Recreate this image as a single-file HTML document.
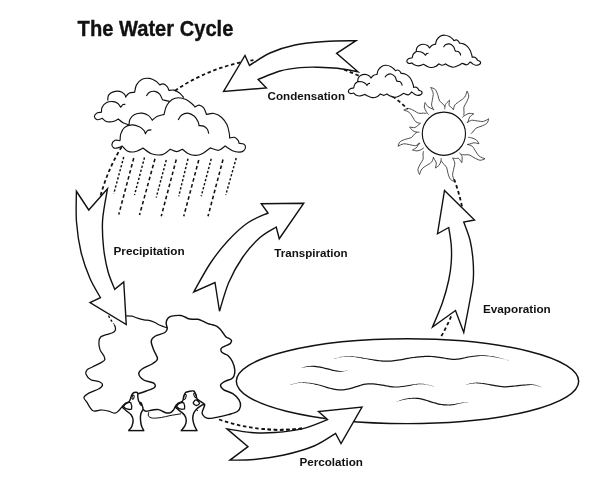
<!DOCTYPE html>
<html><head><meta charset="utf-8"><title>The Water Cycle</title>
<style>
html,body{margin:0;padding:0;background:#fff;}
svg{display:block;will-change:transform;}
text{font-family:"Liberation Sans",sans-serif;fill:#111;}
</style></head><body>
<svg width="600" height="484" viewBox="0 0 600 484">
<rect width="600" height="484" fill="#fff"/>
<path d="M100.65 195.46 A185.8 185.8 0 0 1 121.52 147.01" fill="none" stroke="#111" stroke-width="1.8" stroke-linejoin="miter" stroke-linecap="butt" stroke-dasharray="3.5 2.7" stroke-dashoffset="0"/>
<path d="M174.96 90.74 A185.8 185.8 0 0 1 241.03 62.33" fill="none" stroke="#111" stroke-width="1.8" stroke-linejoin="miter" stroke-linecap="butt" stroke-dasharray="3.5 2.7" stroke-dashoffset="0"/>
<path d="M250.43 60.57 A185.8 185.8 0 0 1 253.44 60.11" fill="none" stroke="#111" stroke-width="1.8" stroke-linejoin="miter" stroke-linecap="butt" stroke-dasharray="3.5 2.7" stroke-dashoffset="0"/>
<path d="M343.98 69.56 A185.8 185.8 0 0 1 359.5 76.07" fill="none" stroke="#111" stroke-width="1.8" stroke-linejoin="miter" stroke-linecap="butt" stroke-dasharray="3.5 2.7" stroke-dashoffset="0"/>
<path d="M392.69 96.28 A185.8 185.8 0 0 1 407.81 109.14" fill="none" stroke="#111" stroke-width="1.8" stroke-linejoin="miter" stroke-linecap="butt" stroke-dasharray="3.5 2.7" stroke-dashoffset="0"/>
<path d="M454.15 179.26 A185.8 185.8 0 0 1 461.96 206.41" fill="none" stroke="#111" stroke-width="1.8" stroke-linejoin="miter" stroke-linecap="butt" stroke-dasharray="3.5 2.7" stroke-dashoffset="0"/>
<path d="M451.14 316.35 A185.8 185.8 0 0 1 440.54 337.53" fill="none" stroke="#111" stroke-width="1.8" stroke-linejoin="miter" stroke-linecap="butt" stroke-dasharray="3.5 2.7" stroke-dashoffset="0"/>
<path d="M301.98 428.5 A185.8 185.8 0 0 1 217.95 419.13" fill="none" stroke="#111" stroke-width="1.8" stroke-linejoin="miter" stroke-linecap="butt" stroke-dasharray="3.5 2.7" stroke-dashoffset="0"/>
<path d="M223.6 91.4 L245 55.5 L249.5 65.5 C252.92 63.42 262.42 56.42 270 53C277.58 49.58 285.83 46.92 295 45C304.17 43.08 314.83 42.22 325 41.5C335.17 40.78 350.83 40.83 356 40.7L336.6 53.4 L358 71.8 C354.58 71.2 344.17 68.97 337.5 68.2C330.83 67.43 324.25 67.3 318 67.2C311.75 67.1 306.33 66.97 300 67.6C293.67 68.23 286.97 69.02 280 71C273.03 72.98 261.83 78.08 258.2 79.5L266.4 88 Z" fill="none" stroke="#111" stroke-width="1.4" stroke-linejoin="miter" stroke-linecap="butt" />
<path d="M76.4 191.25 L88.75 210 L107.5 188.75 C106.68 193.96 103.25 210.12 102.6 220C101.95 229.88 102.7 239.42 103.6 248C104.5 256.58 106.15 264.62 108 271.5C109.85 278.38 113.58 286.33 114.7 289.3L123.75 282 L126.25 324.5 L90 302.5 L100.4 297.6 C98.63 294.33 93.03 285.6 89.8 278C86.57 270.4 83.22 261.33 81 252C78.78 242.67 77.27 232.12 76.5 222C75.73 211.88 76.42 196.38 76.4 191.25Z" fill="none" stroke="#111" stroke-width="1.4" stroke-linejoin="miter" stroke-linecap="butt" />
<path d="M444.5 190.5 L474.5 220 L463.75 222 C464.79 225 468.46 233.67 470 240C471.54 246.33 472.46 253.33 473 260C473.54 266.67 473.75 273.33 473.25 280C472.75 286.67 471.58 291.25 470 300C468.42 308.75 464.79 327.08 463.75 332.5L455.5 310.5 L432.5 327 C434.17 322.92 439.79 310.33 442.5 302.5C445.21 294.67 447.29 286.67 448.75 280C450.21 273.33 450.83 268.33 451.25 262.5C451.67 256.67 451.67 250.83 451.25 245C450.83 239.17 449.17 230.42 448.75 227.5L437.5 233.75 Z" fill="none" stroke="#111" stroke-width="1.4" stroke-linejoin="miter" stroke-linecap="butt" />
<path d="M303.75 203.25 L261.25 203.75 L268 213 C264.58 214.67 254.25 218.29 247.5 223C240.75 227.71 233.75 234.46 227.5 241.25C221.25 248.04 215.62 255.29 210 263.75C204.38 272.21 196.46 287.29 193.75 292L215 282.5 L219.5 311.25 C221.04 306.46 224.92 291.46 228.75 282.5C232.58 273.54 237.29 265 242.5 257.5C247.71 250 254.38 242.58 260 237.5C265.62 232.42 273.54 228.75 276.25 227L279.25 238.75 Z" fill="none" stroke="#111" stroke-width="1.4" stroke-linejoin="miter" stroke-linecap="butt" />
<ellipse cx="407.5" cy="381.2" rx="171.2" ry="42.4" fill="none" stroke="#111" stroke-width="1.45"/>
<path d="M333.78 359.01L334.45 358.81L335.36 358.53L336.44 358.21L337.62 357.87L338.84 357.56L340.02 357.32L341.18 357.14L342.36 356.97L343.57 356.82L344.82 356.71L346.13 356.65L347.5 356.63L348.95 356.68L350.46 356.79L352.04 356.93L353.65 357.12L355.3 357.32L356.96 357.55L358.64 357.79L360.36 358.08L362.12 358.39L363.89 358.72L365.66 359.04L367.42 359.35L369.18 359.66L370.95 359.99L372.73 360.32L374.49 360.63L376.23 360.91L377.93 361.14L379.57 361.34L381.15 361.51L382.71 361.65L384.27 361.75L385.86 361.81L387.51 361.81L389.21 361.76L390.92 361.65L392.66 361.5L394.43 361.3L396.23 361.07L398.09 360.82L400.04 360.51L402.08 360.13L404.15 359.73L406.21 359.32L408.21 358.94L410.1 358.62L411.87 358.35L413.56 358.12L415.2 357.91L416.81 357.73L418.41 357.56L420.05 357.42L421.7 357.29L423.34 357.17L424.97 357.07L426.61 357.01L428.27 356.99L429.98 357.02L431.72 357.12L433.51 357.28L435.33 357.48L437.18 357.72L439.04 357.97L440.91 358.22L442.82 358.51L444.79 358.87L446.79 359.24L448.77 359.59L450.68 359.86L452.47 360.02L454.09 360.05L455.58 359.98L456.98 359.83L458.33 359.63L459.68 359.4L461.09 359.17L462.54 358.91L463.95 358.6L465.37 358.26L466.83 357.92L468.38 357.59L470.08 357.3L471.95 357.02L473.97 356.73L476.08 356.45L478.24 356.22L480.39 356.06L482.5 355.99L484.54 356.03L486.56 356.14L488.59 356.33L490.64 356.58L492.76 356.88L494.95 357.24L497.42 357.71L500.18 358.31L503 358.96L505.64 359.62L507.87 360.2L509.47 360.61L509.53 360.39L507.93 359.99L505.69 359.41L503.06 358.71L500.26 357.97L497.51 357.3L495.05 356.76L492.85 356.35L490.73 355.99L488.66 355.68L486.62 355.45L484.58 355.29L482.5 355.21L480.36 355.23L478.17 355.35L475.98 355.55L473.85 355.79L471.81 356.05L469.92 356.3L468.2 356.56L466.61 356.87L465.13 357.19L463.71 357.51L462.32 357.79L460.91 358.03L459.5 358.24L458.15 358.45L456.83 358.62L455.49 358.75L454.08 358.8L452.53 358.78L450.82 358.62L448.97 358.35L447.02 358.01L445.02 357.64L443.03 357.28L441.09 356.98L439.21 356.73L437.34 356.48L435.48 356.24L433.64 356.04L431.81 355.88L430.02 355.78L428.28 355.74L426.58 355.76L424.91 355.83L423.25 355.92L421.61 356.05L419.95 356.18L418.3 356.32L416.67 356.48L415.05 356.67L413.4 356.88L411.69 357.11L409.9 357.38L407.99 357.71L405.97 358.09L403.91 358.5L401.85 358.9L399.83 359.28L397.91 359.58L396.07 359.84L394.28 360.06L392.53 360.25L390.82 360.41L389.14 360.52L387.49 360.59L385.88 360.6L384.32 360.57L382.79 360.49L381.26 360.37L379.69 360.23L378.07 360.06L376.38 359.85L374.66 359.6L372.9 359.32L371.12 359.02L369.34 358.73L367.58 358.45L365.81 358.17L364.03 357.88L362.26 357.59L360.49 357.32L358.75 357.07L357.04 356.85L355.37 356.67L353.72 356.5L352.09 356.35L350.5 356.24L348.97 356.18L347.5 356.17L346.11 356.22L344.79 356.32L343.53 356.47L342.31 356.65L341.13 356.85L339.98 357.08L338.79 357.34L337.56 357.66L336.38 357.99L335.29 358.32L334.38 358.6L333.72 358.79Z" fill="#151515" stroke="none"/>
<path d="M301.28 368.11L301.78 367.97L302.45 367.77L303.26 367.57L304.16 367.38L305.1 367.21L306.05 367.09L307.02 366.99L308.04 366.9L309.11 366.84L310.22 366.8L311.35 366.79L312.49 366.84L313.65 366.93L314.87 367.06L316.11 367.23L317.37 367.41L318.64 367.6L319.89 367.82L321.14 368.05L322.4 368.32L323.67 368.61L324.93 368.92L326.16 369.22L327.35 369.51L328.49 369.79L329.6 370.08L330.69 370.36L331.76 370.64L332.82 370.89L333.88 371.08L334.91 371.25L335.89 371.41L336.86 371.54L337.85 371.63L338.89 371.69L339.99 371.7L341.26 371.64L342.69 371.5L344.14 371.32L345.51 371.12L346.68 370.98L347.51 370.91L347.49 370.69L346.66 370.76L345.49 370.83L344.11 370.88L342.65 370.92L341.24 370.94L340.01 370.9L338.95 370.81L337.96 370.68L337.01 370.53L336.07 370.34L335.12 370.14L334.12 369.92L333.09 369.68L332.06 369.42L331 369.15L329.92 368.87L328.8 368.58L327.65 368.29L326.46 368.01L325.22 367.7L323.96 367.4L322.67 367.1L321.39 366.83L320.11 366.58L318.84 366.37L317.55 366.17L316.27 365.99L314.99 365.87L313.73 365.79L312.51 365.76L311.33 365.79L310.17 365.88L309.04 366L307.96 366.15L306.93 366.33L305.95 366.51L305 366.73L304.06 367L303.18 367.29L302.39 367.56L301.72 367.76L301.22 367.89Z" fill="#151515" stroke="none"/>
<path d="M290.03 385.11L290.68 384.91L291.57 384.63L292.63 384.3L293.77 383.96L294.93 383.66L296.03 383.44L297.06 383.27L298.08 383.11L299.12 382.99L300.18 382.9L301.3 382.85L302.5 382.85L303.78 382.91L305.15 383.01L306.56 383.15L308.02 383.33L309.48 383.54L310.94 383.77L312.39 384.03L313.85 384.31L315.32 384.63L316.81 384.98L318.33 385.36L319.88 385.77L321.47 386.23L323.1 386.76L324.77 387.33L326.47 387.89L328.17 388.41L329.86 388.87L331.55 389.26L333.25 389.63L334.96 389.97L336.66 390.24L338.34 390.43L339.98 390.52L341.59 390.51L343.15 390.41L344.68 390.23L346.18 389.99L347.66 389.71L349.13 389.41L350.62 389.06L352.12 388.65L353.59 388.2L355.03 387.74L356.39 387.29L357.68 386.9L358.88 386.53L359.98 386.17L361.02 385.83L362.03 385.52L363.04 385.24L364.11 385.01L365.26 384.83L366.45 384.68L367.66 384.56L368.88 384.48L370.08 384.43L371.24 384.42L372.37 384.46L373.47 384.54L374.57 384.66L375.67 384.81L376.78 384.96L377.92 385.12L379.08 385.28L380.26 385.45L381.45 385.64L382.63 385.84L383.78 386.03L384.89 386.22L385.93 386.41L386.93 386.61L387.91 386.81L388.89 387L389.89 387.17L390.93 387.3L391.97 387.41L393.01 387.5L394.06 387.56L395.15 387.6L396.3 387.6L397.53 387.55L398.84 387.45L400.22 387.3L401.66 387.12L403.12 386.91L404.6 386.69L406.07 386.46L407.58 386.21L409.15 385.93L410.73 385.63L412.27 385.34L413.73 385.07L415.05 384.85L416.21 384.66L417.23 384.5L418.16 384.36L419.06 384.25L419.98 384.19L420.99 384.17L422.1 384.2L423.25 384.28L424.44 384.41L425.64 384.56L426.82 384.75L427.97 384.95L429.16 385.21L430.41 385.54L431.65 385.91L432.8 386.28L433.77 386.59L434.47 386.81L434.53 386.59L433.83 386.38L432.87 386.07L431.72 385.7L430.48 385.32L429.22 384.95L428.03 384.65L426.88 384.4L425.7 384.18L424.5 383.98L423.3 383.82L422.13 383.7L421.01 383.63L419.97 383.62L419.01 383.66L418.09 383.74L417.14 383.86L416.11 384L414.95 384.15L413.61 384.34L412.14 384.57L410.59 384.82L409 385.08L407.43 385.33L405.93 385.54L404.46 385.73L402.99 385.93L401.53 386.1L400.11 386.26L398.75 386.38L397.47 386.45L396.29 386.47L395.18 386.45L394.13 386.4L393.1 386.32L392.09 386.22L391.07 386.1L390.08 385.96L389.11 385.78L388.16 385.59L387.18 385.38L386.17 385.18L385.11 384.98L383.99 384.8L382.83 384.6L381.65 384.41L380.45 384.22L379.25 384.04L378.08 383.88L376.95 383.73L375.83 383.57L374.72 383.42L373.59 383.3L372.43 383.21L371.26 383.18L370.05 383.18L368.81 383.23L367.56 383.31L366.31 383.43L365.08 383.59L363.89 383.79L362.75 384.03L361.68 384.31L360.64 384.64L359.59 384.98L358.5 385.34L357.32 385.7L356.02 386.1L354.64 386.55L353.22 387L351.77 387.45L350.31 387.85L348.87 388.19L347.42 388.48L345.97 388.75L344.51 388.99L343.03 389.16L341.54 389.26L340.02 389.28L338.44 389.18L336.82 389L335.17 388.74L333.49 388.44L331.81 388.1L330.14 387.73L328.47 387.32L326.79 386.84L325.1 386.31L323.42 385.78L321.75 385.27L320.12 384.83L318.55 384.46L317.01 384.11L315.5 383.79L314 383.51L312.53 383.25L311.06 383.03L309.58 382.84L308.09 382.67L306.62 382.53L305.19 382.42L303.81 382.36L302.5 382.35L301.29 382.39L300.15 382.47L299.07 382.6L298.03 382.76L297 382.95L295.97 383.16L294.87 383.43L293.71 383.75L292.56 384.09L291.5 384.42L290.61 384.7L289.97 384.89Z" fill="#151515" stroke="none"/>
<path d="M465.78 385.1L466.34 384.93L467.1 384.68L468 384.39L469 384.12L470.03 383.89L471.04 383.71L472.02 383.58L473.03 383.47L474.07 383.39L475.15 383.35L476.29 383.35L477.49 383.39L478.76 383.49L480.12 383.65L481.53 383.85L482.98 384.07L484.45 384.31L485.91 384.56L487.41 384.82L488.97 385.12L490.54 385.42L492.09 385.71L493.56 385.98L494.89 386.22L496.08 386.41L497.15 386.59L498.14 386.75L499.08 386.89L500 387.01L500.93 387.12L501.81 387.22L502.61 387.31L503.41 387.38L504.25 387.43L505.18 387.45L506.27 387.42L507.53 387.36L508.92 387.24L510.39 387.1L511.93 386.94L513.49 386.78L515.06 386.62L516.7 386.46L518.45 386.28L520.23 386.06L521.97 385.86L523.6 385.67L525.04 385.52L526.28 385.39L527.37 385.28L528.34 385.2L529.24 385.14L530.11 385.1L530.99 385.09L531.86 385.1L532.66 385.12L533.43 385.17L534.21 385.25L535.04 385.37L535.94 385.55L537.01 385.81L538.24 386.17L539.52 386.57L540.72 386.97L541.74 387.35L542.46 387.6L542.54 387.4L541.81 387.14L540.8 386.77L539.61 386.31L538.35 385.82L537.14 385.39L536.06 385.05L535.15 384.82L534.31 384.65L533.5 384.52L532.71 384.43L531.89 384.36L531.01 384.31L530.1 384.28L529.21 384.28L528.29 384.3L527.3 384.35L526.2 384.41L524.96 384.48L523.5 384.59L521.86 384.72L520.11 384.87L518.32 385.04L516.58 385.22L514.94 385.38L513.36 385.54L511.8 385.7L510.27 385.86L508.81 386L507.45 386.11L506.23 386.18L505.18 386.2L504.29 386.18L503.5 386.13L502.74 386.06L501.95 385.98L501.07 385.88L500.16 385.77L499.25 385.65L498.33 385.51L497.35 385.36L496.28 385.18L495.11 384.98L493.78 384.75L492.32 384.48L490.77 384.19L489.18 383.91L487.6 383.66L486.09 383.44L484.61 383.25L483.13 383.06L481.65 382.89L480.21 382.75L478.83 382.65L477.51 382.61L476.28 382.62L475.12 382.69L474.02 382.79L472.97 382.93L471.95 383.1L470.96 383.29L469.95 383.53L468.92 383.84L467.94 384.18L467.03 384.47L466.27 384.72L465.72 384.9Z" fill="#151515" stroke="none"/>
<path d="M396.29 402.1L397.12 401.8L398.27 401.37L399.65 400.92L401.14 400.45L402.65 400.03L404.07 399.69L405.44 399.45L406.84 399.23L408.26 399.06L409.68 398.93L411.11 398.85L412.52 398.81L413.89 398.81L415.21 398.83L416.53 398.9L417.88 399.03L419.31 399.24L420.87 399.51L422.63 399.93L424.58 400.48L426.62 401.11L428.66 401.76L430.59 402.38L432.32 402.9L433.81 403.33L435.12 403.72L436.33 404.07L437.49 404.39L438.66 404.67L439.89 404.91L441.17 405.12L442.46 405.29L443.76 405.43L445.03 405.53L446.28 405.58L447.49 405.6L448.66 405.57L449.79 405.5L450.89 405.4L451.96 405.28L453.02 405.13L454.07 404.97L455.08 404.79L456.02 404.57L456.95 404.35L457.9 404.11L458.92 403.86L460.05 403.62L461.44 403.35L463.07 403.05L464.78 402.75L466.4 402.45L467.78 402.25L468.77 402.11L468.73 401.89L467.75 402.03L466.36 402.23L464.72 402.4L463 402.6L461.36 402.8L459.95 402.98L458.78 403.17L457.73 403.36L456.77 403.55L455.85 403.74L454.92 403.9L453.93 404.03L452.9 404.15L451.85 404.25L450.8 404.33L449.73 404.39L448.63 404.42L447.51 404.4L446.33 404.35L445.11 404.28L443.87 404.18L442.61 404.05L441.35 403.89L440.11 403.69L438.93 403.45L437.8 403.18L436.67 402.87L435.47 402.52L434.16 402.13L432.68 401.7L430.97 401.19L429.04 400.57L427 399.92L424.94 399.28L422.95 398.72L421.13 398.29L419.5 398L418.01 397.83L416.6 397.74L415.23 397.71L413.88 397.73L412.48 397.79L411.04 397.89L409.59 398.04L408.15 398.24L406.72 398.48L405.31 398.77L403.93 399.11L402.5 399.53L401.01 400.05L399.54 400.62L398.19 401.17L397.05 401.6L396.21 401.9Z" fill="#151515" stroke="none"/>
<path d="M227 428.9 L248 446.6 L230 460.1 C234 460 245 460.35 254 459.5C263 458.65 274 457.25 284 455C294 452.75 305.4 449.6 314 446C322.6 442.4 332 435.5 335.6 433.4L341 443.6 L362 407 L318.5 411.5 L327.5 419.6 C323.25 421.15 310.75 426.75 302 428.9C293.25 431.05 283.5 431.9 275 432.5C266.5 433.1 259 433.1 251 432.5C243 431.9 231 429.5 227 428.9Z" fill="#fff" stroke="#111" stroke-width="1.4" stroke-linejoin="miter" stroke-linecap="butt" />
<path d="M301.98 428.5 A185.8 185.8 0 0 1 262.01 428.93" fill="none" stroke="#111" stroke-width="1.8" stroke-linejoin="miter" stroke-linecap="butt" stroke-dasharray="3.5 2.7" stroke-dashoffset="0"/>
<path d="M101.5 112.4C100.82 112.47 98.58 112.12 97.4 112.8C96.22 113.48 94.43 115.35 94.4 116.5C94.37 117.65 95.9 119.4 97.2 119.7C98.5 120 101.37 118.53 102.2 118.3C102.72 118.73 104.13 120.3 105.3 120.9C106.47 121.5 107.75 121.83 109.2 121.9C110.65 121.97 112.48 121.78 114 121.3C115.52 120.82 117.58 119.38 118.3 119C119.08 119.62 121.22 121.72 123 122.7C124.78 123.68 128 124.53 129 124.9" fill="none" stroke="#111" stroke-width="1.15" stroke-linejoin="miter" stroke-linecap="butt" />
<path d="M101.5 112.4C101.6 111.53 101.23 108.85 102.1 107.2C102.97 105.55 104.85 103.43 106.7 102.5C108.55 101.57 111.33 101.43 113.2 101.6C115.07 101.77 116.65 102.57 117.9 103.5C119.15 104.43 120.23 106.58 120.7 107.2C121.1 106.77 122.33 105.07 123.1 104.6C123.87 104.13 124.93 104.43 125.3 104.4" fill="none" stroke="#111" stroke-width="1.15" stroke-linejoin="miter" stroke-linecap="butt" />
<path d="M107.7 100.7C107.85 99.77 107.68 96.57 108.6 95.1C109.52 93.63 111.33 92.52 113.2 91.9C115.07 91.28 117.93 91.02 119.8 91.4C121.67 91.78 123.42 93.27 124.4 94.2C125.38 95.13 125.48 96.53 125.7 97C126.25 96.37 127.52 93.98 129 93.2C130.48 92.42 133.67 92.45 134.6 92.3C134.92 91.07 135.25 87.07 136.5 84.9C137.75 82.73 139.93 80.38 142.1 79.3C144.27 78.22 147.18 78.08 149.5 78.4C151.82 78.72 154.3 80.12 156 81.2C157.7 82.28 159.08 84.28 159.7 84.9C160.32 84.73 162.15 83.6 163.4 83.9C164.65 84.2 166.27 85.6 167.2 86.7C168.13 87.8 168.7 89.87 169 90.5C169.78 90.43 171.95 89.68 173.7 90.1C175.45 90.52 177.82 91.73 179.5 93C181.18 94.27 183.08 96.92 183.8 97.7" fill="none" stroke="#111" stroke-width="1.15" stroke-linejoin="miter" stroke-linecap="butt" />
<path d="M146.3 96C146.83 95.38 148.03 93.07 149.5 92.3C150.97 91.53 153.4 91.08 155.1 91.4C156.8 91.72 158.47 92.8 159.7 94.2C160.93 95.6 162.03 98.87 162.5 99.8C163.28 99.98 165.95 100.6 167.2 100.9C168.45 101.2 169.53 101.48 170 101.6" fill="none" stroke="#111" stroke-width="1.15" stroke-linejoin="miter" stroke-linecap="butt" />
<path d="M120.1 140.7C119.27 140.63 116.47 139.68 115.1 140.3C113.73 140.92 112.05 143.1 111.9 144.4C111.75 145.7 112.88 147.63 114.2 148.1C115.52 148.57 118.5 147.57 119.8 147.2C121.1 146.83 121.63 146.12 122 145.9C122.87 146.73 125.1 149.92 127.2 150.9C129.3 151.88 131.97 152.27 134.6 151.8C137.23 151.33 141.6 148.72 143 148.1C144.4 149.03 148.15 152.62 151.4 153.7C154.65 154.78 159.37 155.35 162.5 154.6C165.63 153.85 168.92 150.1 170.2 149.2C171.28 149.6 174.68 151.6 176.7 151.6C178.72 151.6 181.37 149.6 182.3 149.2C183.23 149.9 185.73 152.38 187.9 153.4C190.07 154.42 192.82 155.3 195.3 155.3C197.78 155.3 200.32 154.63 202.8 153.4C205.28 152.17 208.97 148.82 210.2 147.9C211.6 148.3 216.12 150.62 218.6 150.3C221.08 149.98 224.02 146.72 225.1 146C226.33 146.78 230.18 149.68 232.5 150.7C234.82 151.72 237.13 152.1 239 152.1C240.87 152.1 242.62 151.57 243.7 150.7C244.78 149.83 245.5 148 245.5 146.9C245.5 145.8 244.78 144.72 243.7 144.1C242.62 143.48 239.78 143.35 239 143.2C238.85 142.73 238.87 141.38 238.1 140.4C237.33 139.42 235.8 137.7 234.4 137.3C233 136.9 230.48 137.88 229.7 138C229.62 137.17 229.67 135.23 229.2 133C228.73 130.77 228.2 127.23 226.9 124.6C225.6 121.97 223.57 119.05 221.4 117.2C219.23 115.35 216.38 113.97 213.9 113.5C211.42 113.03 207.73 114.25 206.5 114.4C206.03 113.32 204.95 109.45 203.7 107.9C202.45 106.35 200.45 105.25 199 105.1C197.55 104.95 195.67 106.68 195 107C194.58 106.53 194 105.45 192.5 104.2C191 102.95 188.32 100.58 186 99.5C183.68 98.42 180.92 97.7 178.6 97.7C176.28 97.7 174.12 98.12 172.1 99.5C170.08 100.88 167.83 103.52 166.5 106C165.17 108.48 164.5 113 164.1 114.4C162.9 114.75 158.87 115.53 156.9 116.5C154.93 117.47 153.07 119.58 152.3 120.2C151.68 119.43 150.3 116.78 148.6 115.6C146.9 114.42 144.43 113.27 142.1 113.1C139.77 112.93 136.62 113.57 134.6 114.6C132.58 115.63 130.93 117.58 130 119.3C129.07 121.02 129.17 123.97 129 124.9" fill="#fff" stroke="#111" stroke-width="1.15" stroke-linejoin="miter" stroke-linecap="butt" />
<path d="M120.1 140.7C120.2 139.6 119.98 136.28 120.7 134.1C121.42 131.92 122.55 129.13 124.4 127.6C126.25 126.07 129.32 125.05 131.8 124.9C134.28 124.75 137.28 125.78 139.3 126.7C141.32 127.62 142.88 129.25 143.9 130.4C144.92 131.55 145.15 133.07 145.4 133.6C145.77 133.07 146.6 131.02 147.6 130.4C148.6 129.78 150.77 129.98 151.4 129.9" fill="none" stroke="#111" stroke-width="1.15" stroke-linejoin="miter" stroke-linecap="butt" />
<path d="M178.2 120C178.73 119.22 179.78 116.45 181.4 115.3C183.02 114.15 185.73 112.93 187.9 113.1C190.07 113.27 192.7 114.85 194.4 116.3C196.1 117.75 197.33 120.25 198.1 121.8C198.87 123.35 198.85 124.97 199 125.6C199.78 125.68 202.3 125.48 203.7 126.1C205.1 126.72 206.57 128.05 207.4 129.3C208.23 130.55 208.48 132.88 208.7 133.6" fill="none" stroke="#111" stroke-width="1.15" stroke-linejoin="miter" stroke-linecap="butt" />
<path d="M123.75 157L113.75 193.75" fill="none" stroke="#111" stroke-width="1.45" stroke-linejoin="miter" stroke-linecap="butt" stroke-dasharray="2.3 1.9"/>
<path d="M133.75 158L118.75 214.5" fill="none" stroke="#111" stroke-width="1.55" stroke-linejoin="miter" stroke-linecap="butt" stroke-dasharray="3.6 2.65"/>
<path d="M144.5 157.5L134.5 195" fill="none" stroke="#111" stroke-width="1.45" stroke-linejoin="miter" stroke-linecap="butt" stroke-dasharray="2.3 1.9"/>
<path d="M155 158.75L139.5 215" fill="none" stroke="#111" stroke-width="1.55" stroke-linejoin="miter" stroke-linecap="butt" stroke-dasharray="3.6 2.65"/>
<path d="M166.25 160L156.25 197.5" fill="none" stroke="#111" stroke-width="1.45" stroke-linejoin="miter" stroke-linecap="butt" stroke-dasharray="2.3 1.9"/>
<path d="M176.25 159.5L161.25 216.25" fill="none" stroke="#111" stroke-width="1.55" stroke-linejoin="miter" stroke-linecap="butt" stroke-dasharray="3.6 2.65"/>
<path d="M188 158.75L178.75 196.25" fill="none" stroke="#111" stroke-width="1.45" stroke-linejoin="miter" stroke-linecap="butt" stroke-dasharray="2.3 1.9"/>
<path d="M198.75 160L183.75 216.25" fill="none" stroke="#111" stroke-width="1.55" stroke-linejoin="miter" stroke-linecap="butt" stroke-dasharray="3.6 2.65"/>
<path d="M211.25 158.75L201.25 196.25" fill="none" stroke="#111" stroke-width="1.45" stroke-linejoin="miter" stroke-linecap="butt" stroke-dasharray="2.3 1.9"/>
<path d="M223 159.5L208 216.25" fill="none" stroke="#111" stroke-width="1.55" stroke-linejoin="miter" stroke-linecap="butt" stroke-dasharray="3.6 2.65"/>
<path d="M236.25 158L225.75 195" fill="none" stroke="#111" stroke-width="1.45" stroke-linejoin="miter" stroke-linecap="butt" stroke-dasharray="2.3 1.9"/>
<g transform="translate(0 0)">
<path d="M353.7 88C353.13 88.12 351.2 88.15 350.3 88.7C349.4 89.25 348.3 90.5 348.3 91.3C348.3 92.1 349.4 93.2 350.3 93.5C351.2 93.8 353.13 93.17 353.7 93.1C354.03 93.4 354.7 94.42 355.7 94.9C356.7 95.38 358.15 96.08 359.7 96C361.25 95.92 364.12 94.67 365 94.4C365.45 94.67 366.48 95.47 367.7 96C368.92 96.53 370.75 97.48 372.3 97.6C373.85 97.72 375.67 97.3 377 96.7C378.33 96.1 379.75 94.45 380.3 94C380.87 94.22 382.58 95.3 383.7 95.3C384.82 95.3 386.45 94.22 387 94C387.55 94.33 388.97 95.45 390.3 96C391.63 96.55 393.43 97.35 395 97.3C396.57 97.25 398.25 96.37 399.7 95.7C401.15 95.03 403.03 93.7 403.7 93.3C404.47 93.57 406.97 95.12 408.3 94.9C409.63 94.68 411.13 92.48 411.7 92C412.13 92.33 413.42 93.45 414.3 94C415.18 94.55 416 95.15 417 95.3C418 95.45 419.45 95.27 420.3 94.9C421.15 94.53 421.93 93.7 422.1 93.1C422.27 92.5 421.82 91.75 421.3 91.3C420.78 90.85 419.38 90.55 419 90.4C418.88 90.18 418.75 89.62 418.3 89.1C417.85 88.58 417.07 87.6 416.3 87.3C415.53 87 414.13 87.3 413.7 87.3C413.63 86.97 413.63 86.4 413.3 85.3C412.97 84.2 412.42 82.13 411.7 80.7C410.98 79.27 410.12 77.82 409 76.7C407.88 75.58 406.33 74.57 405 74C403.67 73.43 401.67 73.42 401 73.3C400.82 72.97 400.45 71.85 399.9 71.3C399.35 70.75 398.45 70.1 397.7 70C396.95 69.9 395.78 70.58 395.4 70.7C395.22 70.47 395.03 69.97 394.3 69.3C393.57 68.63 392.33 67.37 391 66.7C389.67 66.03 387.85 65.35 386.3 65.3C384.75 65.25 383.03 65.62 381.7 66.4C380.37 67.18 379.08 68.67 378.3 70C377.52 71.33 377.22 73.67 377 74.4C376.45 74.55 374.7 74.7 373.7 75.3C372.7 75.9 371.45 77.55 371 78C370.67 77.62 370 76.3 369 75.7C368 75.1 366.33 74.47 365 74.4C363.67 74.33 362.12 74.7 361 75.3C359.88 75.9 358.85 76.95 358.3 78C357.75 79.05 357.8 81 357.7 81.6C357.22 82.03 355.47 83.13 354.8 84.2C354.13 85.27 353.88 87.37 353.7 88" fill="#fff" stroke="#111" stroke-width="1.15" stroke-linejoin="miter" stroke-linecap="butt" />
<path d="M357.7 81.6C358.37 81.63 360.48 81.52 361.7 81.8C362.92 82.08 364.12 82.72 365 83.3C365.88 83.88 366.67 84.97 367 85.3C367.22 85.03 367.8 84.03 368.3 83.7C368.8 83.37 369.72 83.37 370 83.3" fill="none" stroke="#111" stroke-width="1.15" stroke-linejoin="miter" stroke-linecap="butt" />
<path d="M385 77.3C385.33 76.9 386 75.45 387 74.9C388 74.35 389.67 73.7 391 74C392.33 74.3 394.12 75.7 395 76.7C395.88 77.7 395.97 79.23 396.3 80C396.63 80.77 396.88 81.08 397 81.3C397.45 81.35 398.92 81.2 399.7 81.6C400.48 82 401.3 83.03 401.7 83.7C402.1 84.37 402.03 85.28 402.1 85.6" fill="none" stroke="#111" stroke-width="1.15" stroke-linejoin="miter" stroke-linecap="butt" />
</g>
<g transform="translate(58.5 -30.1)">
<path d="M353.7 88C353.13 88.12 351.2 88.15 350.3 88.7C349.4 89.25 348.3 90.5 348.3 91.3C348.3 92.1 349.4 93.2 350.3 93.5C351.2 93.8 353.13 93.17 353.7 93.1C354.03 93.4 354.7 94.42 355.7 94.9C356.7 95.38 358.15 96.08 359.7 96C361.25 95.92 364.12 94.67 365 94.4C365.45 94.67 366.48 95.47 367.7 96C368.92 96.53 370.75 97.48 372.3 97.6C373.85 97.72 375.67 97.3 377 96.7C378.33 96.1 379.75 94.45 380.3 94C380.87 94.22 382.58 95.3 383.7 95.3C384.82 95.3 386.45 94.22 387 94C387.55 94.33 388.97 95.45 390.3 96C391.63 96.55 393.43 97.35 395 97.3C396.57 97.25 398.25 96.37 399.7 95.7C401.15 95.03 403.03 93.7 403.7 93.3C404.47 93.57 406.97 95.12 408.3 94.9C409.63 94.68 411.13 92.48 411.7 92C412.13 92.33 413.42 93.45 414.3 94C415.18 94.55 416 95.15 417 95.3C418 95.45 419.45 95.27 420.3 94.9C421.15 94.53 421.93 93.7 422.1 93.1C422.27 92.5 421.82 91.75 421.3 91.3C420.78 90.85 419.38 90.55 419 90.4C418.88 90.18 418.75 89.62 418.3 89.1C417.85 88.58 417.07 87.6 416.3 87.3C415.53 87 414.13 87.3 413.7 87.3C413.63 86.97 413.63 86.4 413.3 85.3C412.97 84.2 412.42 82.13 411.7 80.7C410.98 79.27 410.12 77.82 409 76.7C407.88 75.58 406.33 74.57 405 74C403.67 73.43 401.67 73.42 401 73.3C400.82 72.97 400.45 71.85 399.9 71.3C399.35 70.75 398.45 70.1 397.7 70C396.95 69.9 395.78 70.58 395.4 70.7C395.22 70.47 395.03 69.97 394.3 69.3C393.57 68.63 392.33 67.37 391 66.7C389.67 66.03 387.85 65.35 386.3 65.3C384.75 65.25 383.03 65.62 381.7 66.4C380.37 67.18 379.08 68.67 378.3 70C377.52 71.33 377.22 73.67 377 74.4C376.45 74.55 374.7 74.7 373.7 75.3C372.7 75.9 371.45 77.55 371 78C370.67 77.62 370 76.3 369 75.7C368 75.1 366.33 74.47 365 74.4C363.67 74.33 362.12 74.7 361 75.3C359.88 75.9 358.85 76.95 358.3 78C357.75 79.05 357.8 81 357.7 81.6C357.22 82.03 355.47 83.13 354.8 84.2C354.13 85.27 353.88 87.37 353.7 88" fill="#fff" stroke="#111" stroke-width="1.15" stroke-linejoin="miter" stroke-linecap="butt" />
<path d="M357.7 81.6C358.37 81.63 360.48 81.52 361.7 81.8C362.92 82.08 364.12 82.72 365 83.3C365.88 83.88 366.67 84.97 367 85.3C367.22 85.03 367.8 84.03 368.3 83.7C368.8 83.37 369.72 83.37 370 83.3" fill="none" stroke="#111" stroke-width="1.15" stroke-linejoin="miter" stroke-linecap="butt" />
<path d="M385 77.3C385.33 76.9 386 75.45 387 74.9C388 74.35 389.67 73.7 391 74C392.33 74.3 394.12 75.7 395 76.7C395.88 77.7 395.97 79.23 396.3 80C396.63 80.77 396.88 81.08 397 81.3C397.45 81.35 398.92 81.2 399.7 81.6C400.48 82 401.3 83.03 401.7 83.7C402.1 84.37 402.03 85.28 402.1 85.6" fill="none" stroke="#111" stroke-width="1.15" stroke-linejoin="miter" stroke-linecap="butt" />
</g>
<circle cx="443.9" cy="133.75" r="21.6" fill="#fff" stroke="#111" stroke-width="1.15"/>
<path d="M433.99 110.06C433.6 109.28 431.87 107.18 431.62 105.38C431.37 103.58 432.23 101.28 432.49 99.24C432.75 97.21 433.48 95.14 433.18 93.17C432.88 91.19 431.11 88.36 430.7 87.39C431.47 87.77 434.09 88.24 435.32 89.64C436.56 91.03 437.38 93.9 438.09 95.77C438.8 97.64 438.68 99.39 439.57 100.85C440.46 102.31 442.51 103.52 443.44 104.52C444.37 105.51 444.84 106.43 445.12 106.81" fill="none" stroke="#222" stroke-width="0.8" stroke-linejoin="miter" stroke-linecap="butt" stroke-linejoin="round"/>
<path d="M444.76 109.26C444.79 108.68 444.73 106.74 444.97 105.77C445.22 104.8 445.47 104.36 446.23 103.44C447 102.52 449.01 100.76 449.57 100.23C449.5 101.09 448.83 104.23 449.15 105.43C449.46 106.63 450.74 106.67 451.45 107.41C452.16 108.15 453.08 109.46 453.4 109.87" fill="none" stroke="#222" stroke-width="0.8" stroke-linejoin="miter" stroke-linecap="butt" stroke-linejoin="round"/>
<path d="M453.4 109.87C453.67 109.03 453.92 106.29 455.01 104.81C456.1 103.33 458.34 102.26 459.96 100.97C461.58 99.68 463.56 98.7 464.74 97.06C465.93 95.42 466.66 92.12 467.04 91.13C467.33 91.94 468.88 94.14 468.78 96.01C468.68 97.89 467.24 100.55 466.42 102.4C465.61 104.25 464.29 105.44 463.89 107.12C463.5 108.8 464.11 111.13 464.07 112.5C464.03 113.87 463.72 114.86 463.65 115.34" fill="none" stroke="#222" stroke-width="0.8" stroke-linejoin="miter" stroke-linecap="butt" stroke-linejoin="round"/>
<path d="M462.28 117.55C462.73 117.17 463.85 115.99 464.97 115.31C466.09 114.62 467.54 113.68 469 113.42C470.46 113.17 472.94 113.72 473.73 113.78C473.06 114.33 470.59 115.85 469.68 117.07C468.76 118.3 468.65 120.19 468.23 121.14C467.8 122.09 467.32 122.5 467.13 122.77" fill="none" stroke="#222" stroke-width="0.8" stroke-linejoin="miter" stroke-linecap="butt" stroke-linejoin="round"/>
<path d="M467.06 122.8C467.79 122.39 469.73 120.62 471.45 120.31C473.18 120 475.45 120.77 477.43 120.95C479.4 121.13 481.43 121.76 483.32 121.4C485.21 121.03 487.85 119.18 488.76 118.74C488.43 119.51 488.11 122.1 486.82 123.37C485.54 124.63 482.82 125.56 481.05 126.33C479.29 127.1 477.6 127.05 476.24 127.99C474.87 128.93 473.8 131.02 472.89 131.98C471.97 132.94 471.11 133.45 470.75 133.75" fill="none" stroke="#222" stroke-width="0.8" stroke-linejoin="miter" stroke-linecap="butt" stroke-linejoin="round"/>
<path d="M468.14 137.29C468.72 137.39 470.25 137.46 471.59 137.89C472.94 138.32 474.99 138.88 476.23 139.86C477.46 140.84 478.54 143.1 479 143.75C478.15 143.59 475.49 142.73 473.86 142.8C472.24 142.86 470.35 143.88 469.25 144.15C468.15 144.42 467.61 144.36 467.29 144.41" fill="none" stroke="#222" stroke-width="0.8" stroke-linejoin="miter" stroke-linecap="butt" stroke-linejoin="round"/>
<path d="M467.26 144.4C468.08 144.7 470.76 145.06 472.16 146.21C473.56 147.36 474.49 149.63 475.68 151.29C476.86 152.96 477.73 154.96 479.28 156.2C480.83 157.44 484.05 158.32 485 158.74C484.18 158.99 481.94 160.43 480.1 160.24C478.25 160.06 475.7 158.52 473.92 157.63C472.14 156.74 471.04 155.38 469.4 154.92C467.76 154.46 465.43 154.97 464.08 154.87C462.73 154.77 461.76 154.42 461.3 154.34" fill="none" stroke="#222" stroke-width="0.8" stroke-linejoin="miter" stroke-linecap="butt" stroke-linejoin="round"/>
<path d="M459.45 152.68C459.81 153.14 461.14 154.56 461.6 155.45C462.05 156.34 462.16 156.83 462.2 158.03C462.23 159.23 461.88 161.88 461.82 162.65C461.3 161.95 459.72 159.15 458.69 158.46C457.66 157.77 456.67 158.59 455.65 158.5C454.63 158.42 453.08 158.04 452.56 157.95" fill="none" stroke="#222" stroke-width="0.8" stroke-linejoin="miter" stroke-linecap="butt" stroke-linejoin="round"/>
<path d="M452.58 157.99C452.95 158.83 454.6 161.11 454.78 162.99C454.95 164.88 453.98 167.21 453.63 169.3C453.27 171.4 452.43 173.5 452.64 175.57C452.85 177.64 454.51 180.68 454.88 181.71C454.12 181.28 451.46 180.63 450.27 179.11C449.09 177.59 448.4 174.56 447.78 172.57C447.15 170.59 447.36 168.78 446.53 167.21C445.71 165.65 443.7 164.27 442.82 163.18C441.94 162.1 441.52 161.12 441.26 160.71" fill="none" stroke="#222" stroke-width="0.8" stroke-linejoin="miter" stroke-linecap="butt" stroke-linejoin="round"/>
<path d="M441.25 158.11C441.17 158.68 441.13 160.41 440.78 161.58C440.43 162.74 440.04 164.02 439.16 165.09C438.28 166.17 436.09 167.54 435.48 168.03C435.61 167.17 436.44 164.29 436.26 162.86C436.09 161.44 434.91 160.41 434.44 159.46C433.96 158.52 433.58 157.59 433.41 157.21" fill="none" stroke="#222" stroke-width="0.8" stroke-linejoin="miter" stroke-linecap="butt" stroke-linejoin="round"/>
<path d="M433.43 157.15C433.15 157.95 432.82 160.57 431.7 161.94C430.58 163.31 428.36 164.22 426.73 165.38C425.1 166.54 423.13 167.39 421.93 168.91C420.73 170.43 419.91 173.57 419.51 174.51C419.25 173.71 417.81 171.52 417.97 169.71C418.12 167.9 419.6 165.4 420.45 163.66C421.3 161.91 422.62 160.84 423.05 159.23C423.48 157.61 422.94 155.32 423.01 153.99C423.09 152.66 423.41 151.7 423.49 151.24" fill="none" stroke="#222" stroke-width="0.8" stroke-linejoin="miter" stroke-linecap="butt" stroke-linejoin="round"/>
<path d="M423.83 147.8C423.34 148.12 422.03 149.22 420.91 149.73C419.79 150.24 418.52 150.83 417.11 150.88C415.7 150.93 413.24 150.18 412.47 150.04C413.2 149.57 415.9 148.3 416.87 147.23C417.85 146.15 417.79 144.21 418.32 143.57C418.85 142.93 419.78 143.41 420.07 143.38" fill="none" stroke="#222" stroke-width="0.8" stroke-linejoin="miter" stroke-linecap="butt" stroke-linejoin="round"/>
<path d="M420.13 143.35C419.36 143.73 417.3 145.4 415.54 145.61C413.77 145.83 411.53 144.94 409.55 144.65C407.56 144.36 405.55 143.6 403.62 143.87C401.69 144.13 398.91 145.84 397.97 146.23C398.34 145.47 398.82 142.89 400.19 141.69C401.57 140.5 404.38 139.72 406.21 139.05C408.04 138.37 409.74 138.52 411.17 137.65C412.6 136.79 413.81 134.76 414.79 133.85C415.78 132.94 416.68 132.48 417.05 132.2" fill="none" stroke="#222" stroke-width="0.8" stroke-linejoin="miter" stroke-linecap="butt" stroke-linejoin="round"/>
<path d="M419.45 132.25C418.86 132.2 417.09 132.23 415.96 131.94C414.83 131.65 413.73 131.34 412.67 130.52C411.6 129.7 410.07 127.6 409.55 127.01C410.42 127.1 413.38 127.8 414.75 127.55C416.12 127.3 416.83 126.21 417.77 125.51C418.71 124.81 419.95 123.73 420.39 123.38" fill="none" stroke="#222" stroke-width="0.8" stroke-linejoin="miter" stroke-linecap="butt" stroke-linejoin="round"/>
<path d="M420.51 123.43C419.74 123.16 417.2 122.88 415.88 121.8C414.56 120.72 413.7 118.54 412.59 116.96C411.47 115.38 410.66 113.47 409.2 112.32C407.73 111.16 404.69 110.41 403.79 110.03C404.56 109.77 406.69 108.33 408.44 108.46C410.19 108.58 412.6 109.99 414.29 110.79C415.98 111.58 417.02 112.86 418.58 113.25C420.15 113.63 422.39 113.06 423.69 113.11C424.99 113.15 425.93 113.45 426.37 113.52" fill="none" stroke="#222" stroke-width="0.8" stroke-linejoin="miter" stroke-linecap="butt" stroke-linejoin="round"/>
<path d="M428.55 114.66C428.2 114.19 427.13 113.1 426.43 111.87C425.74 110.64 424.62 108.83 424.38 107.27C424.14 105.71 424.89 103.32 424.99 102.53C425.51 103.23 426.87 105.67 428.11 106.73C429.34 107.78 431.43 108.32 432.41 108.88C433.39 109.43 433.72 109.85 433.98 110.04" fill="none" stroke="#222" stroke-width="0.8" stroke-linejoin="miter" stroke-linecap="butt" stroke-linejoin="round"/>
<path d="M126.25 315.8C127.21 315.87 130.12 315.8 132 316.2C133.88 316.6 135.5 317.6 137.5 318.2C139.5 318.8 141.92 319.4 144 319.8C146.08 320.2 148.17 320.15 150 320.6C151.83 321.05 153.33 321.72 155 322.5C156.67 323.28 157.92 324.38 160 325.3C162.08 326.22 166.25 327.55 167.5 328" fill="none" stroke="#111" stroke-width="1.25" stroke-linejoin="miter" stroke-linecap="butt" />
<path d="M114.2 324.6C114.42 325.17 115.4 326.9 115.5 328C115.6 329.1 115.38 330.37 114.8 331.2C114.22 332.03 113.42 332.43 112 333C110.58 333.57 108.2 333.93 106.3 334.6C104.4 335.27 101.83 335.73 100.6 337C99.37 338.27 98.98 340.05 98.9 342.2C98.82 344.35 99.25 347.58 100.1 349.9C100.95 352.22 103.25 354.42 104 356.1C104.75 357.78 105.25 358.83 104.6 360C103.95 361.17 102.13 361.93 100.1 363.1C98.07 364.27 94.58 365.88 92.4 367C90.22 368.12 88.07 368.58 87 369.8C85.93 371.02 85.37 372.65 86 374.3C86.63 375.95 88.57 378.47 90.8 379.7C93.03 380.93 97.45 380.8 99.4 381.7C101.35 382.6 102.63 383.88 102.5 385.1C102.37 386.32 100.8 387.7 98.6 389C96.4 390.3 91.75 391.48 89.3 392.9C86.85 394.32 84.28 395.92 83.9 397.5C83.52 399.08 85.97 400.72 87 402.4C88.03 404.08 89 406.17 90.1 407.6C91.2 409.03 91.67 410.6 93.6 411C95.53 411.4 99.18 409.97 101.7 410C104.22 410.03 106.5 410.67 108.7 411.2C110.9 411.73 113.23 413.28 114.9 413.2C116.57 413.12 117.53 411.75 118.7 410.7C119.87 409.65 121.37 407.53 121.9 406.9" fill="none" stroke="#111" stroke-width="1.25" stroke-linejoin="miter" stroke-linecap="butt" />
<path d="M108.6 315.6 C109.3 318 111.8 321 113.6 323.8" fill="none" stroke="#111" stroke-width="1.4" stroke-linejoin="miter" stroke-linecap="butt" stroke-dasharray="2.6 1.9"/>
<path d="M148.75 412C148.71 412.67 147.88 414.98 148.5 416C149.12 417.02 150.38 417.85 152.5 418.1C154.62 418.35 158.33 417.92 161.25 417.5C164.17 417.08 166.71 416.22 170 415.6C173.29 414.98 179.17 414.1 181 413.8" fill="none" stroke="#111" stroke-width="1.0" stroke-linejoin="miter" stroke-linecap="butt" />
<path d="M167.3 328.2C167.12 327.42 166.25 324.92 166.2 323.5C166.15 322.08 166.43 320.82 167 319.7C167.57 318.58 168.27 317.48 169.6 316.8C170.93 316.12 173.12 315.82 175 315.6C176.88 315.38 179.23 315.27 180.9 315.5C182.57 315.73 183.7 316.45 185 317C186.3 317.55 187.37 318.43 188.7 318.8C190.03 319.17 191.47 319.12 193 319.2C194.53 319.28 196.23 318.97 197.9 319.3C199.57 319.63 201.32 320.48 203 321.2C204.68 321.92 206.42 323 208 323.6C209.58 324.2 211.08 324.37 212.5 324.8C213.92 325.23 215.33 325.58 216.5 326.2C217.67 326.82 218.58 327.62 219.5 328.5C220.42 329.38 220.95 330.12 222 331.5C223.05 332.88 224.63 335.67 225.8 336.8C226.97 337.93 228.05 337.68 229 338.3C229.95 338.92 231.25 339.68 231.5 340.5C231.75 341.32 231.08 342.48 230.5 343.2C229.92 343.92 229.17 344.2 228 344.8C226.83 345.4 224.67 346.13 223.5 346.8C222.33 347.47 221.33 347.97 221 348.8C220.67 349.63 220.92 350.97 221.5 351.8C222.08 352.63 223.38 353.13 224.5 353.8C225.62 354.47 226.87 354.47 228.2 355.8C229.53 357.13 231.4 359.43 232.5 361.8C233.6 364.17 234.55 367.63 234.8 370C235.05 372.37 234.55 374.53 234 376C233.45 377.47 233 377.92 231.5 378.8C230 379.68 226.82 380.27 225 381.3C223.18 382.33 220.85 383.62 220.6 385C220.35 386.38 221.47 388.15 223.5 389.6C225.53 391.05 230.22 391.98 232.8 393.7C235.38 395.42 237.72 397.85 239 399.9C240.28 401.95 240.77 404.07 240.5 406C240.23 407.93 239.45 410.07 237.4 411.5C235.35 412.93 231.28 413.7 228.2 414.6C225.12 415.5 222 416.27 218.9 416.9C215.8 417.53 211.98 418.38 209.6 418.4C207.22 418.42 205.85 417.9 204.6 417C203.35 416.1 202.23 414.53 202.1 413C201.97 411.47 203.32 409.23 203.8 407.8C204.28 406.37 204.8 404.97 205 404.4" fill="none" stroke="#111" stroke-width="1.45" stroke-linejoin="miter" stroke-linecap="butt" stroke-linejoin="round"/>
<path d="M167.5 328C167.08 328.75 167.08 331.12 165 332.5C162.92 333.88 157.29 334.79 155 336.25C152.71 337.71 151.46 338.96 151.25 341.25C151.04 343.54 152.71 347.08 153.75 350C154.79 352.92 157.71 356.46 157.5 358.75C157.29 361.04 155 362.08 152.5 363.75C150 365.42 144.79 367.08 142.5 368.75C140.21 370.42 138.54 371.88 138.75 373.75C138.96 375.62 141.25 378.43 143.75 380C146.25 381.57 151.96 381.95 153.75 383.2C155.54 384.45 155.75 386.2 154.5 387.5C153.25 388.8 148.98 389.96 146.25 391C143.52 392.04 139.46 393.29 138.1 393.75" fill="none" stroke="#111" stroke-width="1.45" stroke-linejoin="miter" stroke-linecap="butt" stroke-linejoin="round"/>
<path d="M143.1 409.4C143.58 409.72 144.43 411.2 146 411.3C147.57 411.4 150.38 410.28 152.5 410C154.62 409.72 156.67 409.18 158.75 409.6C160.83 410.02 163.12 411.95 165 412.5C166.88 413.05 168.58 413.32 170 412.9C171.42 412.48 172.67 411 173.5 410C174.33 409 174.75 407.42 175 406.9" fill="none" stroke="#111" stroke-width="1.45" stroke-linejoin="miter" stroke-linecap="butt" />
<path d="M128.75 430.6C129.28 429.88 131.18 428.02 131.9 426.25C132.62 424.48 133.21 421.88 133.1 420C132.99 418.12 132.28 416.46 131.25 415C130.22 413.54 128.46 412.6 126.9 411.25C125.34 409.9 122.73 407.62 121.9 406.9" fill="none" stroke="#111" stroke-width="1.45" stroke-linejoin="miter" stroke-linecap="butt" />
<path d="M121.9 406.9C122.42 406.38 123.75 404.69 125 403.75C126.25 402.81 128.36 402.5 129.4 401.25C130.44 400 130.63 397.61 131.25 396.25C131.87 394.89 132.27 393.78 133.1 393.1C133.93 392.43 135.45 392.09 136.25 392.2C137.05 392.31 137.65 393.07 137.9 393.75C138.15 394.43 137.61 395 137.75 396.25C137.89 397.5 138.06 399.79 138.75 401.25C139.44 402.71 141.18 403.64 141.9 405C142.62 406.36 143.21 408.15 143.1 409.4C142.99 410.65 141.7 411.15 141.25 412.5C140.8 413.85 140.4 415.42 140.4 417.5C140.4 419.58 140.69 422.82 141.25 425C141.81 427.18 143.33 429.67 143.75 430.6" fill="none" stroke="#111" stroke-width="1.45" stroke-linejoin="miter" stroke-linecap="butt" />
<path d="M128.2 430.6 H144.3" fill="none" stroke="#111" stroke-width="1.45" stroke-linejoin="miter" stroke-linecap="butt" />
<path d="M123.4 406.6 C125.5 402.8 129 401.6 130.8 402.8 C131.9 405 132 407 131.5 409.2 C128.5 410 125.5 409 123.4 406.6Z" fill="none" stroke="#111" stroke-width="1.3" stroke-linejoin="miter" stroke-linecap="butt" />
<ellipse cx="133.1" cy="397.2" rx="1" ry="2.1" fill="none" stroke="#111" stroke-width="1.1" transform="rotate(15 133.1 397.2)"/>
<ellipse cx="140.8" cy="403.8" rx="0.9" ry="1.6" fill="none" stroke="#111" stroke-width="1.1" transform="rotate(-30 140.8 403.8)"/>
<path d="M181.25 430.6C181.88 429.77 184.17 427.37 185 425.6C185.83 423.83 186.35 421.77 186.25 420C186.15 418.23 185.54 416.57 184.4 415C183.26 413.43 180.97 411.95 179.4 410.6C177.83 409.25 175.73 407.52 175 406.9" fill="none" stroke="#111" stroke-width="1.45" stroke-linejoin="miter" stroke-linecap="butt" />
<path d="M175 406.9C175.42 406.38 176.25 404.69 177.5 403.75C178.75 402.81 181.46 402.5 182.5 401.25C183.54 400 183.23 397.71 183.75 396.25C184.27 394.79 184.64 393.32 185.6 392.5C186.56 391.68 188.14 391.55 189.5 391.3C190.86 391.05 192.78 390.63 193.75 391C194.72 391.37 194.88 392.62 195.3 393.5C195.72 394.38 195.93 395.33 196.25 396.25C196.57 397.17 196.37 398.06 197.2 399C198.03 399.94 199.95 401 201.25 401.9C202.55 402.8 204.38 403.98 205 404.4" fill="none" stroke="#111" stroke-width="1.45" stroke-linejoin="miter" stroke-linecap="butt" />
<path d="M205 404.4C204.48 404.53 203.36 404.37 201.9 405.2C200.44 406.03 197.61 408.08 196.25 409.4C194.89 410.72 194.33 411.54 193.75 413.1C193.17 414.66 192.64 416.67 192.75 418.75C192.86 420.83 193.71 423.62 194.4 425.6C195.09 427.58 196.48 429.77 196.9 430.6" fill="none" stroke="#111" stroke-width="1.45" stroke-linejoin="miter" stroke-linecap="butt" />
<path d="M180.7 430.6 H197.5" fill="none" stroke="#111" stroke-width="1.45" stroke-linejoin="miter" stroke-linecap="butt" />
<path d="M176.5 406.5 C178.5 402.8 182 401.8 183.8 403 C184.8 405 184.8 407 184.5 408.9 C181.5 409.8 178.5 408.9 176.5 406.5Z" fill="none" stroke="#111" stroke-width="1.3" stroke-linejoin="miter" stroke-linecap="butt" />
<path d="M193.2 403 C194 400.5 195.5 399.6 196.3 399.9 C198 400.8 199.3 402.3 199.6 403.7 C198.5 405 197 405.6 196 405.5 C194.5 405 193.6 404 193.2 403Z" fill="none" stroke="#111" stroke-width="1.3" stroke-linejoin="miter" stroke-linecap="butt" />
<ellipse cx="184.8" cy="396.9" rx="1.1" ry="2.7" fill="none" stroke="#111" stroke-width="1.1" transform="rotate(15 185 397.2)"/>
<ellipse cx="195" cy="395.4" rx="1.1" ry="2.5" fill="none" stroke="#111" stroke-width="1.1" transform="rotate(-20 194.7 395)"/>
<path d="M196.5 410 L198 410.8" fill="none" stroke="#111" stroke-width="1.0" stroke-linejoin="miter" stroke-linecap="butt" />
<text x="77.6" y="35.6" font-size="21.8" font-weight="bold" textLength="155.8" lengthAdjust="spacingAndGlyphs" stroke="#111" stroke-width="0.35">The Water Cycle</text>
<text x="267.6" y="100.2" font-size="11.8" font-weight="bold" textLength="77.4" lengthAdjust="spacingAndGlyphs" >Condensation</text>
<text x="113.5" y="255.1" font-size="11.8" font-weight="bold" textLength="71.2" lengthAdjust="spacingAndGlyphs" >Precipitation</text>
<text x="274.3" y="257" font-size="11.8" font-weight="bold" textLength="73.4" lengthAdjust="spacingAndGlyphs" >Transpiration</text>
<text x="483.0" y="313" font-size="11.8" font-weight="bold" textLength="67.8" lengthAdjust="spacingAndGlyphs" >Evaporation</text>
<text x="299.5" y="466.3" font-size="11.8" font-weight="bold" textLength="63.4" lengthAdjust="spacingAndGlyphs" >Percolation</text>
</svg>
</body></html>
